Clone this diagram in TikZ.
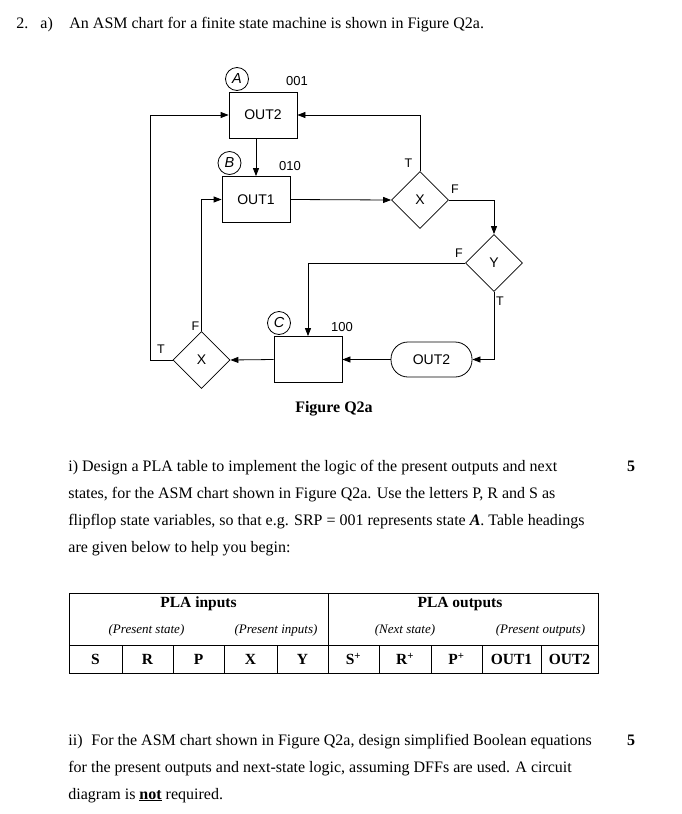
\documentclass[tikz,border=0pt]{standalone}
\usepackage{fontspec}
\setmainfont{Liberation Serif}
\newfontfamily\diag{Liberation Sans}
\usetikzlibrary{arrows.meta,shapes.geometric}
\begin{document}
\begin{tikzpicture}[x=1pt,y=-1pt,
  line width=0.8pt,
  box/.style={draw,rectangle,minimum width=68pt,minimum height=46pt,inner sep=0pt,font=\diag\fontsize{14}{16}\selectfont},
  dia/.style={draw,diamond,minimum width=57pt,minimum height=57pt,inner sep=0pt,font=\diag\fontsize{14}{16}\selectfont},
  oval/.style={draw,rectangle,rounded corners=17pt,minimum width=81pt,minimum height=35pt,inner sep=0pt,font=\diag\fontsize{14}{16}\selectfont},
  stc/.style={draw,circle,minimum size=23pt,inner sep=0pt,font=\diag\itshape\fontsize{14.5}{16}\selectfont},
  lbl/.style={inner sep=0pt,font=\diag\fontsize{12.5}{14}\selectfont},
  code/.style={inner sep=0pt,font=\diag\fontsize{13}{15}\selectfont},
  arr/.style={-{Triangle[length=8pt,width=6pt]}},
  body/.style={anchor=base west,inner sep=0pt,font=\fontsize{16}{19}\selectfont},
  markno/.style={anchor=base,inner sep=0pt,font=\bfseries\fontsize{16}{19}\selectfont},
  th/.style={inner sep=0pt,font=\bfseries\fontsize{15.5}{18}\selectfont},
  ti/.style={inner sep=0pt,font=\itshape\fontsize{13}{15}\selectfont},
  tc/.style={inner sep=0pt,font=\bfseries\fontsize{15.5}{18}\selectfont}
]
\useasboundingbox (0,0) rectangle (681,814);
\fill[white] (0,0) rectangle (681,814);

% header
\node[body] (h1) at (16,28) {2.};
\node[body] (h2) at (40,28) {a)};
\node[body] (h3) at (69,28) {An ASM chart for a finite state machine is shown in Figure Q2a.};

% ASM chart
\node[box] (A) at (263,115) {OUT2};
\node[box] (B) at (256,199.5) {OUT1};
\node[dia] (X1) at (420,200) {X};
\node[dia] (Y) at (494,263) {Y};
\node[oval] (O) at (431.5,359.5) {OUT2};
\node[box] (C) at (308,359.5) {};
\node[dia] (X2) at (201.5,360) {X};

\node[stc] (cA) at (237,79) {A};
\node[stc] (cB) at (229.5,163) {B};
\node[stc] (cC) at (279,323) {C};
\node[code] (sA) at (297,81) {001};
\node[code] (sB) at (290,166) {010};
\node[code] (sC) at (342,327) {100};

\node[lbl] (l1) at (408.5,163) {T};
\node[lbl] (l2) at (455,189) {F};
\node[lbl] (l3) at (459,253) {F};
\node[lbl] (l4) at (500,301) {T};
\node[lbl] (l5) at (195.5,326) {F};
\node[lbl] (l6) at (161,349) {T};

\draw[arr] (A.south -| B.north) -- (B.north);
\draw[arr] (B.east) -- (X1.west);
\draw[arr] (X1.north) |- (A.east);
\draw[arr] (X1.east) -| (Y.north);
\draw[arr] (Y.west) -| (C.north);
\draw[arr] (Y.south) |- (O.east);
\draw[arr] (O.west) -- (C.east);
\draw[arr] (C.west) -- (X2.east);
\draw[arr] (X2.north) |- (B.west);
\coordinate (tl) at (150,360);
\draw[arr] (X2.west) -- (tl) |- (A.west);

\node[inner sep=0pt,font=\bfseries\fontsize{16}{19}\selectfont] (fig) at (334,409) {Figure Q2a};

% part i
\node[body] (p1) at (68,471) {i) Design a PLA table to implement the logic of the present outputs and next};
\node[markno] (m1) at (631,471) {5};
\node[body] (p2) at (68,498) {states, for the ASM chart shown in Figure Q2a. Use the letters P, R and S as};
\node[body] (p3) at (68,525) {flipflop state variables, so that e.g. SRP = 001 represents state \textbf{\textit{A}}. Table headings};
\node[body] (p4) at (68,552) {are given below to help you begin:};

% table
\draw[line width=0.9pt] (69,593) rectangle (598,673);
\draw[line width=0.9pt] (69,645) -- (598,645);
\draw[line width=0.9pt] (328,593) -- (328,673);
\foreach \xx in {122,173,224,277,379,431,482,541}
  \draw[line width=0.9pt] (\xx,645) -- (\xx,673);
\node[th] (t1) at (198.5,604) {PLA inputs};
\node[th] (t2) at (460,604) {PLA outputs};
\node[ti] (t3) at (146.5,630) {(Present state)};
\node[ti] (t4) at (276,630) {(Present inputs)};
\node[ti] (t5) at (405,630) {(Next state)};
\node[ti] (t6) at (540.5,630) {(Present outputs)};
\node[tc] (c1) at (95.5,659) {S};
\node[tc] (c2) at (147.5,659) {R};
\node[tc] (c3) at (198.5,659) {P};
\node[tc] (c4) at (250.5,659) {X};
\node[tc] (c5) at (302.5,659) {Y};
\node[tc] (c6) at (353.5,659) {S\textsuperscript{+}};
\node[tc] (c7) at (405,659) {R\textsuperscript{+}};
\node[tc] (c8) at (456.5,659) {P\textsuperscript{+}};
\node[tc] (c9) at (511.5,659) {OUT1};
\node[tc] (c10) at (569.5,659) {OUT2};

% part ii
\node[body] (q1) at (68,745) {ii)\hspace{0.3em} For the ASM chart shown in Figure Q2a, design simplified Boolean equations};
\node[markno] (m2) at (631,745) {5};
\node[body] (q2) at (68,772) {for the present outputs and next-state logic, assuming DFFs are used. A circuit};
\node[body] (q3) at (68,799) {diagram is \textbf{\underline{not}} required.};
\end{tikzpicture}
\end{document}
